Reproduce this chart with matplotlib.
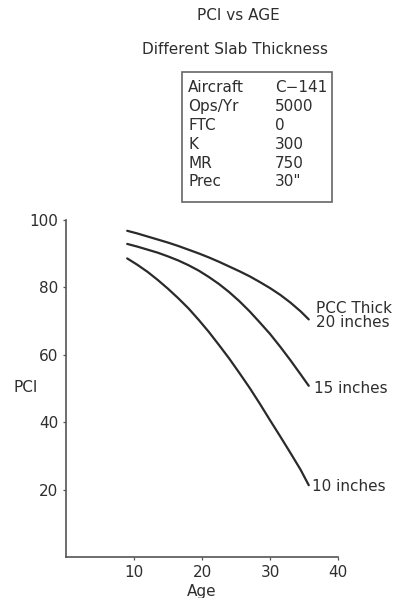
import matplotlib
matplotlib.use("Agg")
import matplotlib.pyplot as plt
from matplotlib.patches import Rectangle

# ---- data ----
ages = [9, 10.5, 12, 13.5, 15, 16.5, 18, 19.5, 21, 22.5, 24, 25.5, 27,
        28.5, 30, 31.5, 33, 34.5, 35.7]
pci_20in = [96.8, 96.0, 95.1, 94.2, 93.3, 92.3, 91.2, 90.1, 88.9, 87.6,
            86.2, 84.8, 83.3, 81.6, 79.8, 77.8, 75.5, 72.9, 70.5]
pci_15in = [92.9, 92.1, 91.2, 90.3, 89.2, 88.0, 86.6, 85.0, 83.1, 81.0,
            78.6, 75.9, 72.9, 69.6, 66.2, 62.4, 58.4, 54.2, 50.8]
pci_10in = [88.6, 86.7, 84.6, 82.2, 79.6, 76.8, 73.8, 70.4, 66.8, 62.9,
            58.9, 54.6, 50.2, 45.5, 40.6, 35.8, 30.9, 25.9, 21.3]
series_labels = ["PCC Thick\n20 inches", "15 inches", "10 inches"]

x_ticks = [10, 20, 30, 40]
y_ticks = [20, 40, 60, 80, 100]

info_keys = ["Aircraft", "Ops/Yr", "FTC", "K", "MR", "Prec"]
info_vals = ["C\u2212141", "5000", "0", "300", "750", "30\""]

title = "PCI vs AGE"
subtitle = "Different Slab Thickness"

# ---- figure ----
W, H = 396, 598
DPI = 100
plt.rcParams['font.family'] = ['DejaVu Sans']
fig = plt.figure(figsize=(W / DPI, H / DPI), dpi=DPI)
fig.patch.set_facecolor("white")

def fx(px):
    return px / W

def fy(py):
    return 1 - py / H

txt_color = "#2e2e2e"
line_color = "#2a2a2a"
axis_color = "#555555"
fs = 11

ax = fig.add_axes([fx(66), fy(557), (338 - 66) / W, (557 - 220) / H])
ax.set_xlim(0, 40)
ax.set_ylim(0, 100)

for vals in (pci_20in, pci_15in, pci_10in):
    ax.plot(ages, vals, color=line_color, lw=1.6, solid_capstyle="round")

ax.spines["top"].set_visible(False)
ax.spines["right"].set_visible(False)
for s in ("left", "bottom"):
    ax.spines[s].set_color(axis_color)
    ax.spines[s].set_linewidth(1.2)

ax.set_xticks(x_ticks)
ax.set_yticks(y_ticks)
ax.tick_params(axis="both", direction="out", length=2.5, width=0.9,
               colors=axis_color, labelcolor=txt_color, labelsize=fs, pad=3)
ax.tick_params(axis="x", pad=3)

ax.set_xlabel("Age", fontsize=fs, color=txt_color, labelpad=3)
fig.text(fx(26), fy(388), "PCI", fontsize=fs, color=txt_color,
         ha="center", va="center")

# curve labels
ends = [(ages[-1], pci_20in[-1]), (ages[-1], pci_15in[-1]), (ages[-1], pci_10in[-1])]
offsets = [(7, 4), (5, -3), (3, -1)]
for (xe, ye), lab, off in zip(ends, series_labels, offsets):
    ax.annotate(lab, xy=(xe, ye), xytext=off, textcoords="offset pixels",
                ha="left", va="center", fontsize=fs, color=txt_color,
                linespacing=0.9, annotation_clip=False)

# titles
fig.text(fx(238), fy(16), title, fontsize=fs, color=txt_color,
         ha="center", va="center")
fig.text(fx(235), fy(50), subtitle, fontsize=fs, color=txt_color,
         ha="center", va="center")

# info box
box_l, box_r, box_t, box_b = 182, 332, 72, 202
fig.patches.append(Rectangle((fx(box_l), fy(box_b)), (box_r - box_l) / W,
                             (box_b - box_t) / H, transform=fig.transFigure,
                             fill=False, edgecolor="#666666", lw=1.2))
row_y0, row_dy = 88, 18.8
for i, (k, v) in enumerate(zip(info_keys, info_vals)):
    yy = row_y0 + i * row_dy
    fig.text(fx(188), fy(yy), k, fontsize=fs, color=txt_color,
             ha="left", va="center")
    fig.text(fx(275), fy(yy), v, fontsize=fs, color=txt_color,
             ha="left", va="center")

fig.savefig("out.png", dpi=DPI, facecolor="white")
